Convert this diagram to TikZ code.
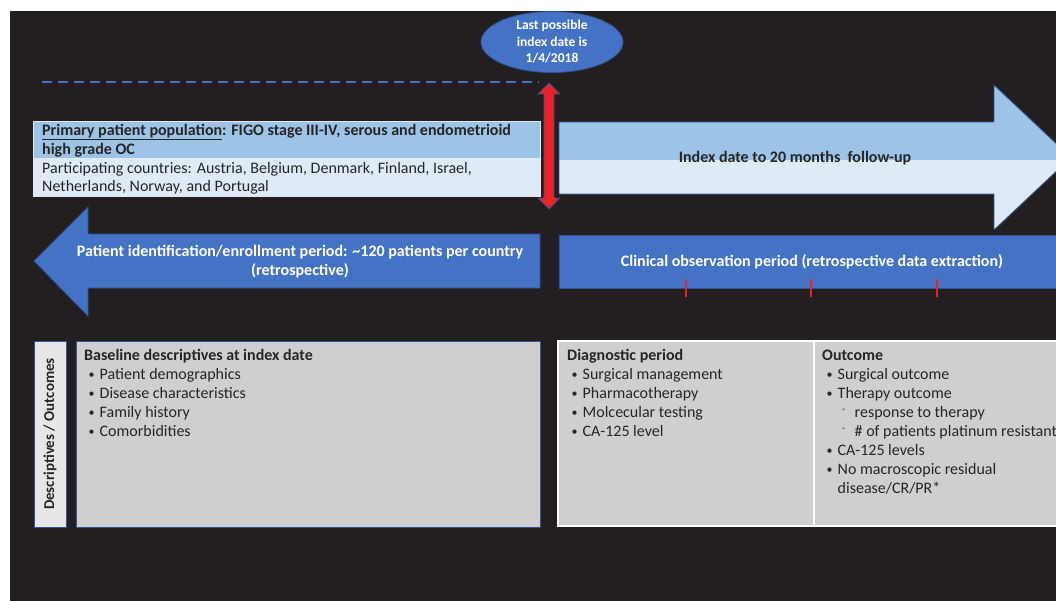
\documentclass[tikz,border=0pt]{standalone}
\usepackage{fontspec}
\setmainfont{Carlito}
\usetikzlibrary{shapes.geometric}
\definecolor{bg}{HTML}{231F20}
\definecolor{mblue}{HTML}{4472C4}
\definecolor{dblue}{HTML}{2F528F}
\definecolor{lblue}{HTML}{9DC3E6}
\definecolor{llblue}{HTML}{DEEBF7}
\definecolor{rred}{HTML}{EC2227}
\definecolor{gbox}{HTML}{D0CECE}
\definecolor{glab}{HTML}{E7E6E6}
\definecolor{bordblue}{HTML}{2F5597}
\definecolor{txt}{HTML}{262626}
\tikzset{
  bodytxt/.style={anchor=base west, inner sep=0pt, text=txt, font=\fontsize{16}{19}\selectfont},
  boldtxt/.style={bodytxt, font=\fontsize{16}{19}\selectfont\bfseries},
  whitetxt/.style={inner sep=0pt, text=white, font=\fontsize{16}{19}\selectfont\bfseries, align=center},
  arrowshape/.style={fill=mblue, draw=dblue, line width=0.8pt},
  tick/.style={draw=rred, line width=1.6pt}
}
\newcommand{\bul}{\makebox[11.5pt][l]{\hspace{0.5pt}\raisebox{0.8pt}{\fontsize{12}{12}\selectfont\textbullet}}}
\newcommand{\subdash}{\makebox[12.5pt][l]{\raisebox{5pt}{\fontsize{10}{10}\selectfont -}}}
\begin{document}
\begin{tikzpicture}[x=1pt,y=-1pt]
\useasboundingbox (0,0) rectangle (1056,600);
\clip (0,0) rectangle (1056,600);
\fill[white] (0,0) rectangle (1056,600);
\fill[bg] (10,11) rectangle (1060,604);

% dashed line
\coordinate (dl) at (42,82);
\coordinate (dr) at (539,82);
\draw[mblue, line width=1.8pt, dash pattern=on 10pt off 6pt] (dl) -- (dr);

% ellipse
\node[ellipse, fill=mblue, draw=dblue, line width=0.8pt, minimum width=142pt, minimum height=61pt, inner sep=0pt,
  text=white, font=\fontsize{13.5}{16.5}\selectfont\bfseries, align=center] (lastdate) at (552,42)
  {Last possible\\index date is\\1/4/2018};

% primary population box
\fill[lblue] (33,121) rectangle (540,158);
\fill[llblue] (33,158) rectangle (540,196);
\draw[glab, line width=0.8pt] (33,121) rectangle (540,196);
\node[boldtxt] (pp1) at (42,135.5) {\underline{Primary patient population}: FIGO stage III-IV, serous and endometrioid};
\node[boldtxt] (pp2) at (42,154.5) {high grade OC};
\node[bodytxt] (pc1) at (42,173.5) {Participating countries: Austria, Belgium, Denmark, Finland, Israel,};
\node[bodytxt] (pc2) at (42,191.5) {Netherlands, Norway, and Portugal};

% big right arrow
\begin{scope}
  \clip (559,122) -- (994,122) -- (994,85) -- (1071,157.5) -- (994,230) -- (994,194) -- (559,194) -- cycle;
  \fill[llblue] (550,80) rectangle (1080,240);
  \fill[lblue] (550,80) rectangle (1080,160);
\end{scope}
\draw[dblue, line width=0.9pt] (559,122) -- (994,122) -- (994,85) -- (1071,157.5) -- (994,230) -- (994,194) -- (559,194) -- cycle;
\node[inner sep=0pt, text=txt, font=\fontsize{16}{19}\selectfont\bfseries] (follow) at (795,158) {Index date to 20 months \ follow-up};

% red double arrow
\fill[rred, draw=dblue, line width=0.9pt] (549,83) -- (560,94) -- (554,94) -- (554,198) -- (560,198) -- (549,209)
  -- (538,198) -- (544,198) -- (544,94) -- (538,94) -- cycle;

% left arrow
\draw[arrowshape] (34,261) -- (88,207) -- (88,234) -- (540,234) -- (540,288) -- (88,288) -- (88,316) -- cycle;
\node[whitetxt] (enrol) at (300,261.5) {Patient identification/enrollment period: \textasciitilde120 patients per country\\(retrospective)};

% clinical observation bar
\draw[arrowshape] (559,235) rectangle (1062,288);
\node[whitetxt] (clin) at (812,262) {Clinical observation period (retrospective data extraction)};
\coordinate (t1a) at (686,279); \coordinate (t1b) at (686,297);
\coordinate (t2a) at (811,279); \coordinate (t2b) at (811,297);
\coordinate (t3a) at (937,279); \coordinate (t3b) at (937,297);
\draw[tick] (t1a) -- (t1b);
\draw[tick] (t2a) -- (t2b);
\draw[tick] (t3a) -- (t3b);

% descriptives label
\draw[fill=glab, draw=bordblue, line width=0.9pt] (34,341) rectangle (66,527);
\node[rotate=90, inner sep=0pt, text=txt, font=\fontsize{15}{18}\selectfont\bfseries] (desc) at (50,434) {Descriptives / Outcomes};

% baseline box
\draw[fill=gbox, draw=bordblue, line width=0.9pt] (76,341) rectangle (540,527);
\node[boldtxt] (bh) at (84,360) {Baseline descriptives at index date};
\node[bodytxt] (b1) at (88,379) {\bul Patient demographics};
\node[bodytxt] (b2) at (88,398) {\bul Disease characteristics};
\node[bodytxt] (b3) at (88,417) {\bul Family history};
\node[bodytxt] (b4) at (88,436) {\bul Comorbidities};

% right table
\draw[fill=gbox, draw=white, line width=2.2pt] (558,341) rectangle (1070,526);
\draw[white, line width=1.8pt] (814,341) -- (814,526);
\node[boldtxt] (dh) at (567,360) {Diagnostic period};
\node[bodytxt] (d1) at (571,379) {\bul Surgical management};
\node[bodytxt] (d2) at (571,398) {\bul Pharmacotherapy};
\node[bodytxt] (d3) at (571,417) {\bul Molcecular testing};
\node[bodytxt] (d4) at (571,436) {\bul CA-125 level};

\node[boldtxt] (oh) at (822,360) {Outcome};
\node[bodytxt] (o1) at (826,379) {\bul Surgical outcome};
\node[bodytxt] (o2) at (826,398) {\bul Therapy outcome};
\node[bodytxt] (o3) at (842,417) {\subdash response to therapy};
\node[bodytxt] (o4) at (842,436) {\subdash \# of patients platinum resistant};
\node[bodytxt] (o5) at (826,455) {\bul CA-125 levels};
\node[bodytxt] (o6) at (826,474) {\bul No macroscopic residual};
\node[bodytxt] (o7) at (837.5,493) {disease/CR/PR*};
\end{tikzpicture}
\end{document}
